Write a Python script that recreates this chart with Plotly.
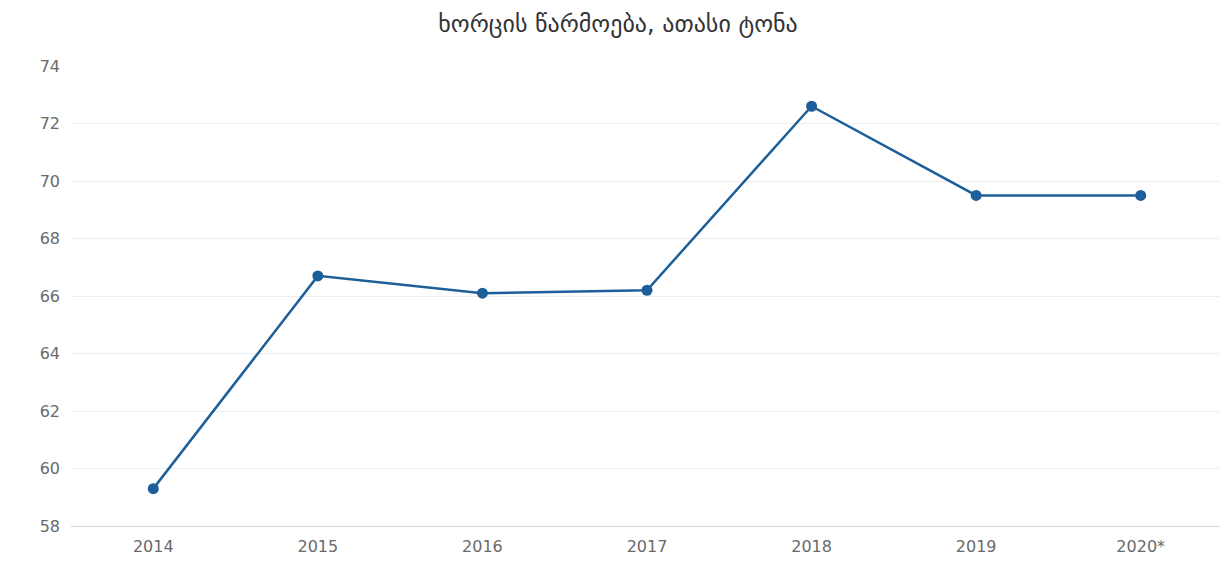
import plotly.graph_objects as go

years = ["2014", "2015", "2016", "2017", "2018", "2019", "2020*"]
production = [59.3, 66.7, 66.1, 66.2, 72.6, 69.5, 69.5]
y_ticks = [58, 60, 62, 64, 66, 68, 70, 72, 74]
title_text = "ხორცის წარმოება, ათასი ტონა"

fig = go.Figure()
fig.add_trace(go.Scatter(
    x=years, y=production, mode="lines+markers",
    line=dict(color="#1d5f98", width=2.5),
    marker=dict(color="#1d5f98", size=11),
    showlegend=False,
))

fig.update_layout(
    width=1220, height=553,
    margin=dict(l=63, r=5, t=58, b=33),
    paper_bgcolor="white", plot_bgcolor="white",
    title=dict(text=title_text, x=0.5, xanchor="center", y=0.972, yanchor="middle",
               font=dict(family="DejaVu Sans", size=24, color="#333333")),
    font=dict(family="DejaVu Sans", color="#666666"),
)
fig.update_xaxes(
    type="category", range=[-0.5, 6.5],
    showgrid=False, showline=True, linecolor="#d8d8d8", linewidth=1,
    tickfont=dict(size=16, color="#6a6a6a"), ticks="", ticklabelstandoff=6,
)
fig.update_yaxes(
    range=[58, 74], tickvals=y_ticks, showgrid=True, gridcolor="#eeeeee",
    zeroline=False, showline=False,
    tickfont=dict(size=16, color="#6a6a6a"), ticklabelstandoff=10,
)

fig.write_html("out.html")
